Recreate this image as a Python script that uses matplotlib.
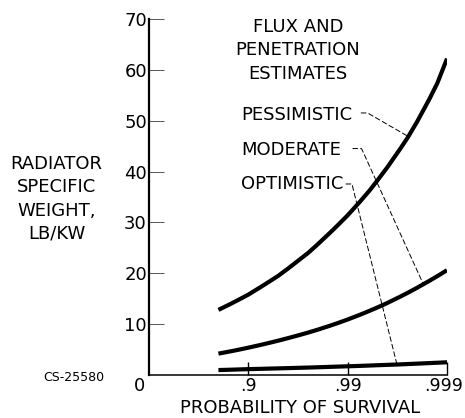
import numpy as np
import matplotlib
matplotlib.use("Agg")
import matplotlib.pyplot as plt
from matplotlib.transforms import ScaledTranslation

# %% Data
prob_survival = [0.8, 0.85, 0.875, 0.9, 0.925, 0.94, 0.95, 0.96, 0.97, 0.975,
                 0.98, 0.985, 0.9875, 0.99, 0.9925, 0.994, 0.995, 0.996,
                 0.997, 0.9975, 0.998, 0.9985, 0.99875, 0.999]
pessimistic = [12.8, 14.0, 14.8, 15.8, 17.3, 18.5, 19.5, 20.9, 22.8, 24.0,
               25.7, 28.0, 29.5, 31.4, 34.1, 36.3, 38.3, 40.8, 44.3, 46.6,
               49.8, 54.3, 57.4, 62.2]
moderate = [4.2, 4.66, 4.97, 5.37, 5.92, 6.37, 6.75, 7.24, 7.9, 8.34,
            8.91, 9.7, 10.23, 10.91, 11.85, 12.63, 13.29, 14.15, 15.34, 16.13,
            17.15, 18.53, 19.44, 20.6]
optimistic = [0.97, 1.04, 1.09, 1.15, 1.21, 1.26, 1.3, 1.35, 1.42, 1.46,
              1.52, 1.6, 1.65, 1.71, 1.79, 1.86, 1.92, 1.99, 2.08, 2.15,
              2.23, 2.34, 2.41, 2.5]

x_ticks = [0.9, 0.99, 0.999]
x_ticklabels = [".9", ".99", ".999"]
y_ticks = [10, 20, 30, 40, 50, 60, 70]

labels = ["PESSIMISTIC", "MODERATE", "OPTIMISTIC"]
# where each leader line meets its curve (probability)
leader_prob = [0.99755, 0.99827, 0.99681]


def fwd(p):
    p = np.clip(np.asarray(p, dtype=float), 0, 1 - 1e-9)
    return -np.log10(1 - p)


def inv(u):
    return 1 - np.power(10.0, -np.asarray(u, dtype=float))


# %% Figure
fig = plt.figure(figsize=(4.65, 4.18), dpi=100)
ax = fig.add_axes([0.3204, 0.1029, 0.6409, 0.8517])
ax.set_xscale("function", functions=(fwd, inv))
ax.set_xlim(0, 0.999)
ax.set_ylim(0, 70)

series = [pessimistic, moderate, optimistic]
for vals in series:
    ax.plot(prob_survival, vals, color="black", lw=3.0, solid_capstyle="butt",
            solid_joinstyle="round")

for s in ["top", "right"]:
    ax.spines[s].set_visible(False)
ax.spines["left"].set_linewidth(1.6)
ax.spines["bottom"].set_linewidth(1.1)

ax.set_xticks(x_ticks)
ax.set_xticklabels(x_ticklabels)
ax.set_yticks(y_ticks)
ax.set_yticklabels([str(t) for t in y_ticks])
ax.minorticks_off()
ax.tick_params(axis="x", direction="in", length=9.5, width=1.0, pad=1.5,
               labelsize=12.5)
ax.tick_params(axis="y", direction="in", length=11, width=0.7, pad=1.5,
               labelsize=13, color="#555555")
# nudge ".999" left so it stays inside the picture
last = ax.xaxis.get_major_ticks()[-1].label1
last.set_transform(last.get_transform()
                   + ScaledTranslation(-3 / 100, 0, fig.dpi_scale_trans))
ax.annotate("0", xy=(0, 0), xycoords="axes fraction", xytext=(-6.5, -1.5),
            textcoords="offset points", ha="center", va="top", fontsize=13)

# %% Labels and leader lines
ax.text(0.5, 0.912, "FLUX AND\nPENETRATION\nESTIMATES", transform=ax.transAxes,
        ha="center", va="center", fontsize=13, linespacing=1.38)

label_y = [0.730, 0.632, 0.5365]
leader_start = [(0.712, 0.736), (0.684, 0.636), (0.661, 0.5365)]
leader_angle = [150, 114.5, 104]
for name, ly, start, ang, pt, vals in zip(labels, label_y, leader_start,
                                          leader_angle, leader_prob, series):
    ax.text(0.31, ly, name, transform=ax.transAxes, ha="left", va="center",
            fontsize=13)
    vt = np.interp(fwd(pt), fwd(prob_survival), vals)
    ax.annotate("", xy=(pt, vt), xycoords="data", xytext=start,
                textcoords="axes fraction",
                arrowprops=dict(arrowstyle="-", lw=0.7, ls=(0, (5, 3)),
                                shrinkA=0, shrinkB=0,
                                connectionstyle=f"angle,angleA=0,angleB={ang},rad=0"))

fig.text(0.1215, 0.524, "RADIATOR\nSPECIFIC\nWEIGHT,\nLB/KW", ha="center",
         va="center", fontsize=13, linespacing=1.38, multialignment="center")
fig.text(0.645, 0.024, "PROBABILITY OF SURVIVAL", ha="center", va="center",
         fontsize=13)
fig.text(0.158, 0.0957, "CS-25580", ha="center", va="center", fontsize=9)

fig.savefig("out.png", dpi=100, facecolor="white")
